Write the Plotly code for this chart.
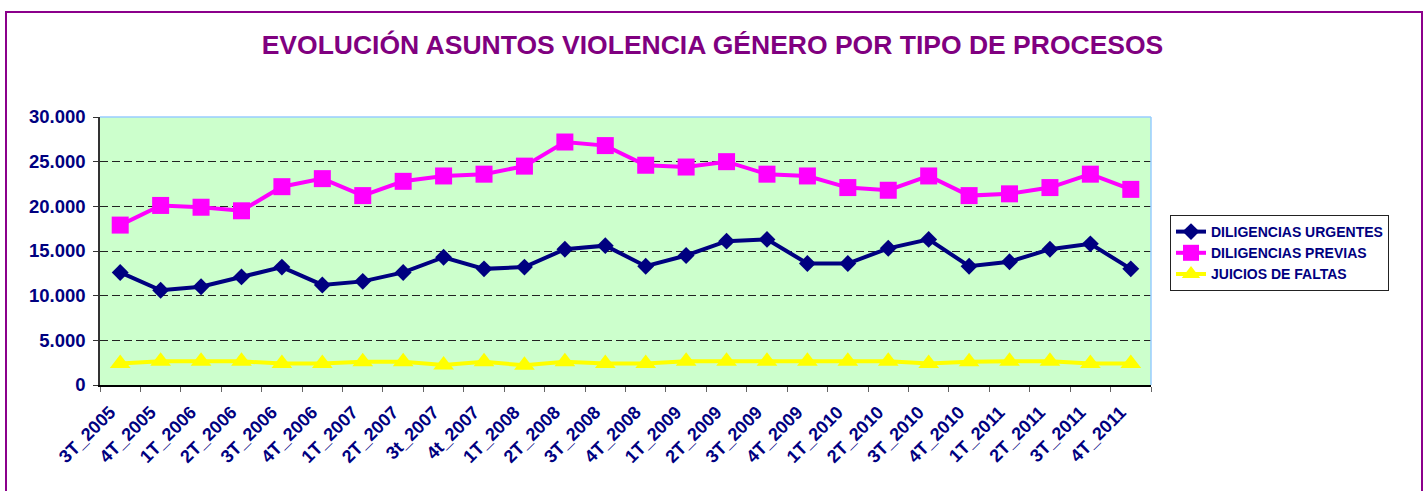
import plotly.graph_objects as go

categories = ["3T_2005", "4T_2005", "1T_2006", "2T_2006", "3T_2006", "4T_2006",
              "1T_2007", "2T_2007", "3t_2007", "4t_2007", "1T_2008", "2T_2008",
              "3T_2008", "4T_2008", "1T_2009", "2T_2009", "3T_2009", "4T_2009",
              "1T_2010", "2T_2010", "3T_2010", "4T_2010", "1T_2011", "2T_2011",
              "3T_2011", "4T_2011"]

diligencias_urgentes = [12600, 10600, 11000, 12100, 13200, 11200, 11600, 12600, 14300, 13000,
                        13200, 15200, 15600, 13300, 14500, 16100, 16300, 13600, 13600, 15300,
                        16300, 13300, 13800, 15200, 15800, 13000]

diligencias_previas = [17900, 20100, 19900, 19500, 22200, 23100, 21200, 22800, 23400, 23600,
                       24500, 27200, 26800, 24600, 24400, 25000, 23600, 23400, 22100, 21800,
                       23400, 21200, 21400, 22100, 23600, 21900]

juicios_de_faltas = [2400, 2650, 2650, 2650, 2400, 2400, 2600, 2600, 2250, 2600,
                     2200, 2600, 2400, 2400, 2650, 2650, 2650, 2650, 2650, 2650,
                     2400, 2600, 2650, 2650, 2400, 2400]

y_ticks = [0, 5000, 10000, 15000, 20000, 25000, 30000]

TITLE = "EVOLUCIÓN ASUNTOS VIOLENCIA GÉNERO POR TIPO DE PROCESOS"
FONT = "Arial, 'Liberation Sans', sans-serif"
NAVY = "#000080"

W, H = 1425, 491
L, R, T, B = 100, 274, 117, 106
pw, ph = W - L - R, H - T - B


def px_x(p):
    return (p - L) / pw


def px_y(p):
    return (H - B - p) / ph


fig = go.Figure()
fig.add_trace(go.Scatter(
    x=categories, y=diligencias_urgentes, name="DILIGENCIAS URGENTES",
    mode="lines+markers", line=dict(color=NAVY, width=4),
    marker=dict(symbol="diamond", size=13, color=NAVY)))
fig.add_trace(go.Scatter(
    x=categories, y=diligencias_previas, name="DILIGENCIAS PREVIAS",
    mode="lines+markers", line=dict(color="#FF00FF", width=4),
    marker=dict(symbol="square", size=17, color="#FF00FF")))
fig.add_trace(go.Scatter(
    x=categories, y=juicios_de_faltas, name="JUICIOS DE FALTAS",
    mode="lines+markers", line=dict(color="#FFFF00", width=4),
    marker=dict(symbol="triangle-up", size=18, color="#FFFF00")))

shapes = [
    dict(type="line", xref="paper", yref="paper", x0=0, x1=1, y0=1, y1=1,
         line=dict(color="#99CCFF", width=1.5), layer="above"),
    dict(type="line", xref="paper", yref="paper", x0=1, x1=1, y0=0, y1=1,
         line=dict(color="#99CCFF", width=1.5), layer="above"),
    dict(type="rect", xref="paper", yref="paper",
         x0=px_x(6), x1=px_x(1422), y0=px_y(500), y1=px_y(12),
         line=dict(color="#8B008B", width=2), layer="below"),
]

fig.update_layout(
    width=W, height=H,
    margin=dict(l=L, r=R, t=T, b=B, pad=0),
    paper_bgcolor="white",
    plot_bgcolor="#CCFFCC",
    separators=",.",
    font=dict(family=FONT, color=NAVY),
    title=dict(text=TITLE, x=712.5 / W, xref="container", xanchor="center",
               y=1 - 45 / H, yref="container", yanchor="middle",
               font=dict(family=FONT, size=26.5, color="#800080", weight="bold")),
    xaxis=dict(
        type="category", categoryorder="array", categoryarray=categories,
        tickangle=-45, tickson="boundaries", ticks="outside", ticklen=5,
        tickcolor="#666666", showgrid=False, showline=True, linecolor="black",
        linewidth=1.5, tickfont=dict(family=FONT, size=18, color=NAVY, weight="bold"),
        ticklabelstandoff=8, ticklabelshift=-10,
        range=[-0.5, len(categories) - 0.5]),
    yaxis=dict(
        range=[0, 30000], tickvals=y_ticks, tickformat=",d", ticks="outside",
        ticklen=5, tickcolor="#333333", showline=True, linecolor="#333333",
        linewidth=1.5, zeroline=False, showgrid=True, gridcolor="#222222",
        gridwidth=1, griddash="8px,4px", ticklabelstandoff=4,
        tickfont=dict(family=FONT, size=18.5, color=NAVY, weight="bold")),
    legend=dict(
        x=px_x(1170), y=px_y(215), xanchor="left", yanchor="top",
        bgcolor="white", bordercolor="#222222", borderwidth=1,
        font=dict(family=FONT, size=14, color=NAVY, weight="bold"),
        tracegroupgap=0),
    shapes=shapes,
    showlegend=True,
)

fig.write_html("out.html", config={"displayModeBar": False},
               post_script="document.body.style.margin='0';document.body.style.overflow='hidden';")
